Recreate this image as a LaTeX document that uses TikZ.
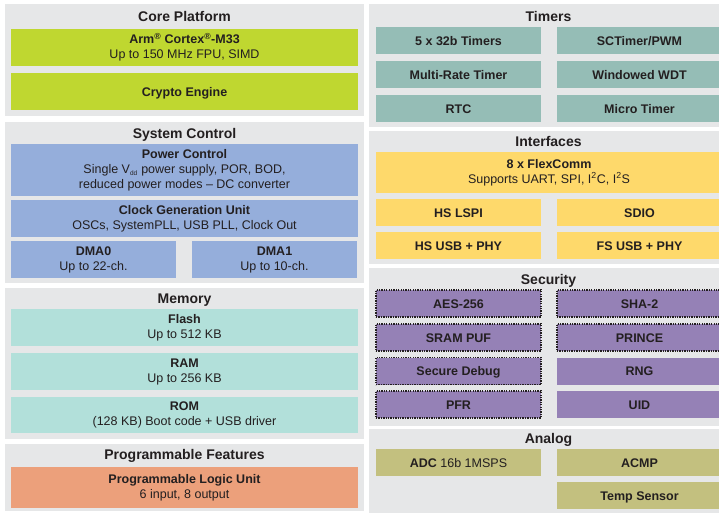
\documentclass[tikz,border=0pt]{standalone}
\usepackage{fontspec}
\setmainfont{Liberation Sans}
\definecolor{ink}{HTML}{231F20}
\definecolor{panelgray}{HTML}{E6E7E8}
\definecolor{corelime}{HTML}{BFD730}
\definecolor{ctrlblue}{HTML}{95AEDB}
\definecolor{memmint}{HTML}{B2E0DA}
\definecolor{plusalmon}{HTML}{ECA07B}
\definecolor{timerteal}{HTML}{95BDB6}
\definecolor{ifyellow}{HTML}{FED96B}
\definecolor{secpurple}{HTML}{9581B6}
\definecolor{anakhaki}{HTML}{C3C07F}
\newcommand{\tinysub}[1]{\textsubscript{\fontsize{6.5}{7}\selectfont #1}}
\tikzset{
  panel/.style={fill=panelgray, inner sep=0pt, outer sep=0pt, minimum width=359pt},
  ttl/.style={anchor=base, inner sep=0pt, text=ink, font=\fontsize{14}{16}\selectfont\bfseries},
  blk/.style={inner sep=0pt, outer sep=0pt, align=center, text=ink, font=\fontsize{12.5}{15}\selectfont},
  wide/.style={blk, minimum width=347pt, minimum height=37pt},
  half/.style={blk, minimum width=165pt, minimum height=27pt},
  capline/.style={text height=9pt, text depth=0pt},
  secure/.style={draw=ink, line width=1.5pt, dash pattern=on 1.3pt off 1.1pt}
}
\begin{document}
\begin{tikzpicture}[x=1pt, y=-1pt]
\clip (0,0) rectangle (719,512);
\fill[white] (0,0) rectangle (719,512);
% left column
\node[panel, minimum height=112pt] (core) at (184.5,60) {};
\node[ttl] (coretitle) at (184.5,21) {Core Platform};
\node[wide, fill=corelime] (arm) at (184.5,47.5) {\textbf{Arm\textsuperscript{®} Cortex\textsuperscript{®}-M33}\\Up to 150 MHz FPU, SIMD};
\node[wide, fill=corelime, capline] (crypto) at (184.5,91.5) {\textbf{Crypto Engine}};

\node[panel, minimum height=161pt] (sysctl) at (184.5,202.5) {};
\node[ttl] (sysctltitle) at (184.5,138) {System Control};
\node[wide, fill=ctrlblue, minimum height=52pt] (power) at (184.5,170) {\textbf{Power Control}\\Single V\tinysub{dd} power supply, POR, BOD,\\reduced power modes – DC converter};
\node[wide, fill=ctrlblue] (clock) at (184.5,218.5) {\textbf{Clock Generation Unit}\\OSCs, SystemPLL, USB PLL, Clock Out};
\node[half, fill=ctrlblue, minimum height=37pt] (dmazero) at (93.5,259.5) {\textbf{DMA0}\\Up to 22-ch.};
\node[half, fill=ctrlblue, minimum height=37pt] (dmaone) at (274.5,259.5) {\textbf{DMA1}\\Up to 10-ch.};

\node[panel, minimum height=151pt] (memory) at (184.5,363.5) {};
\node[ttl] (memorytitle) at (184.5,303) {Memory};
\node[wide, fill=memmint] (flash) at (184.5,327.5) {\textbf{Flash}\\Up to 512 KB};
\node[wide, fill=memmint] (ram) at (184.5,371.5) {\textbf{RAM}\\Up to 256 KB};
\node[wide, fill=memmint, minimum height=36pt] (rom) at (184.5,415) {\textbf{ROM}\\(128 KB) Boot code + USB driver};

\node[panel, minimum height=67pt] (progfeat) at (184.5,477.5) {};
\node[ttl] (progfeattitle) at (184.5,459) {Programmable Features};
\node[wide, fill=plusalmon, minimum height=41pt] (plu) at (184.5,487.5) {\textbf{Programmable Logic Unit}\\6 input, 8 output};

% right column
\node[panel, minimum height=123pt] (timers) at (548.5,65.5) {};
\node[ttl] (timerstitle) at (548.5,21) {Timers};
\node[half, capline, fill=timerteal] (ctimer) at (458.5,40.5) {\textbf{5 x 32b Timers}};
\node[half, capline, fill=timerteal] (sctimer) at (639.5,40.5) {\textbf{SCTimer/PWM}};
\node[half, capline, fill=timerteal] (mrt) at (458.5,74.5) {\textbf{Multi-Rate Timer}};
\node[half, capline, fill=timerteal] (wwdt) at (639.5,74.5) {\textbf{Windowed WDT}};
\node[half, capline, fill=timerteal] (rtc) at (458.5,108.5) {\textbf{RTC}};
\node[half, capline, fill=timerteal] (utick) at (639.5,108.5) {\textbf{Micro Timer}};

\node[panel, minimum height=133pt] (interfaces) at (548.5,197.5) {};
\node[ttl] (interfacestitle) at (548.5,146) {Interfaces};
\node[blk, fill=ifyellow, minimum width=346pt, minimum height=41pt] (flexcomm) at (549,172.5) {\textbf{8 x FlexComm}\\Supports UART, SPI, I\textsuperscript{2}C, I\textsuperscript{2}S};
\node[half, capline, fill=ifyellow] (lspi) at (458.5,212.5) {\textbf{HS LSPI}};
\node[half, capline, fill=ifyellow] (sdio) at (639.5,212.5) {\textbf{SDIO}};
\node[half, capline, fill=ifyellow] (hsusb) at (458.5,245.5) {\textbf{HS USB + PHY}};
\node[half, capline, fill=ifyellow] (fsusb) at (639.5,245.5) {\textbf{FS USB + PHY}};

\node[panel, minimum height=158pt] (security) at (548.5,347) {};
\node[ttl] (securitytitle) at (548.5,284) {Security};
\node[half, capline, secure, fill=secpurple] (aes) at (458.5,303.5) {\textbf{AES-256}};
\node[half, capline, secure, fill=secpurple] (sha) at (639.5,303.5) {\textbf{SHA-2}};
\node[half, capline, secure, fill=secpurple] (puf) at (458.5,337.5) {\textbf{SRAM PUF}};
\node[half, capline, secure, fill=secpurple] (prince) at (639.5,337.5) {\textbf{PRINCE}};
\node[half, capline, secure, fill=secpurple] (debug) at (458.5,371) {\textbf{Secure Debug}};
\node[half, capline, fill=secpurple] (rng) at (639.5,371) {\textbf{RNG}};
\node[half, capline, secure, fill=secpurple] (pfr) at (458.5,404.5) {\textbf{PFR}};
\node[half, capline, fill=secpurple] (uid) at (639.5,404.5) {\textbf{UID}};

\node[panel, minimum height=86pt] (analog) at (548.5,472) {};
\node[ttl] (analogtitle) at (548.5,443) {Analog};
\node[half, capline, fill=anakhaki] (adc) at (458.5,462.5) {\textbf{ADC} 16b 1MSPS};
\node[half, capline, fill=anakhaki] (acmp) at (639.5,462.5) {\textbf{ACMP}};
\node[half, capline, fill=anakhaki] (tsens) at (639.5,495.5) {\textbf{Temp Sensor}};
\end{tikzpicture}
\end{document}
